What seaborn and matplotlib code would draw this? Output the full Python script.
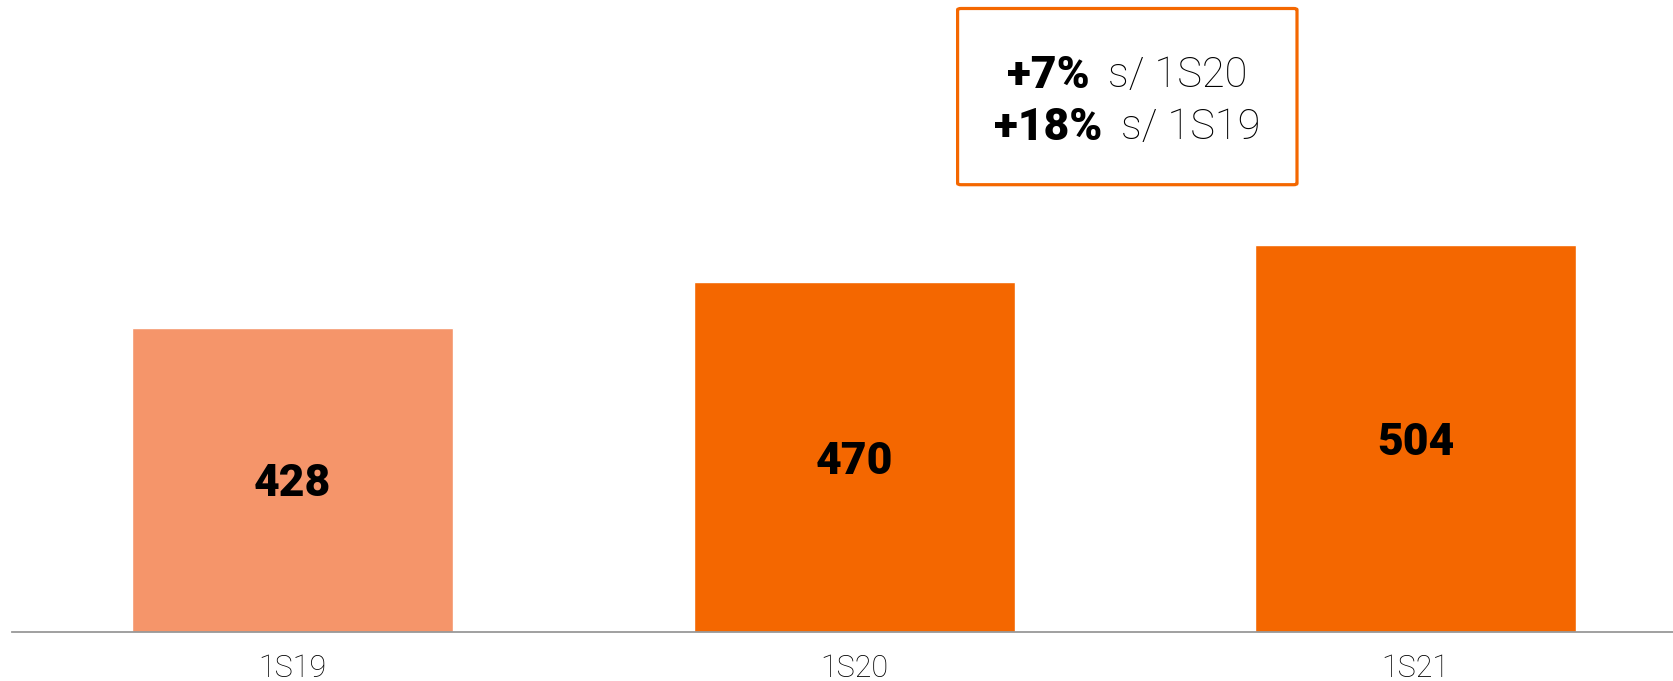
import matplotlib
matplotlib.use("Agg")
import matplotlib.pyplot as plt
import seaborn as sns
import pandas as pd
from matplotlib.patches import FancyBboxPatch

# Chart data
periods = ["1S19", "1S20", "1S21"]
values = [428, 470, 504]
bar_colors = ["#F5956A", "#F46700", "#F46700"]
growth_bold = ["+7%", "+18%"]
growth_light = ["s/ 1S20", "s/ 1S19"]

sns.set_theme(style="white")
plt.rcParams["font.family"] = ["Roboto", "DejaVu Sans"]
plt.rcParams["text.color"] = "black"

df = pd.DataFrame({"period": periods, "value": values})

fig = plt.figure(figsize=(16.74, 6.81), dpi=100)
ax = fig.add_axes([12 / 1674, 1 - 632 / 681, 1 - 12 / 1674, 632 / 681])

sns.barplot(data=df, x="period", y="value", hue="period", palette=bar_colors,
            width=0.572, legend=False, ax=ax, saturation=1)

y_min = 148
ax.set_ylim(y_min, 730)
ax.set_xlim(-0.5, 2.46)

# value labels in the middle of each bar
for i, v in enumerate(values):
    ax.text(i, (y_min + v) / 2, str(v), ha="center", va="center_baseline",
            fontsize=32, fontweight="heavy", color="black")

for side in ["top", "right", "left"]:
    ax.spines[side].set_visible(False)
ax.spines["bottom"].set_color("#999999")
ax.spines["bottom"].set_linewidth(1.3)
ax.set_yticks([])
ax.set_xlabel("")
ax.set_ylabel("")
ax.tick_params(axis="x", length=0, pad=16, labelsize=22, colors="black")
for lbl in ax.get_xticklabels():
    lbl.set_fontweight("light")

# growth box
x0, x1 = 957.6 / 1674, 1297 / 1674
y0, y1 = 1 - 184.7 / 681, 1 - 8.5 / 681
box = FancyBboxPatch((x0, y0), x1 - x0, y1 - y0, boxstyle="round,pad=0,rounding_size=0.002",
                     transform=fig.transFigure, fill=False, edgecolor="#F46700", linewidth=2.3)
fig.patches.append(box)

cx = (x0 + x1) / 2
line_y = [1 - 71.5 / 681, 1 - 123 / 681]
renderer = fig.canvas.get_renderer()
gap = 19 / 1674
for b, l, yy in zip(growth_bold, growth_light, line_y):
    tb = fig.text(0, yy, b, fontsize=32, fontweight="heavy", va="center_baseline", ha="left",
                  color="black")
    tl = fig.text(0, yy, l, fontsize=30, fontweight="light", va="center_baseline", ha="left",
                  color="black")
    wb = tb.get_window_extent(renderer).width / fig.bbox.width
    wl = tl.get_window_extent(renderer).width / fig.bbox.width
    start = cx - (wb + gap + wl) / 2
    tb.set_x(start)
    tl.set_x(start + wb + gap)

fig.savefig("out.png", dpi=100)
